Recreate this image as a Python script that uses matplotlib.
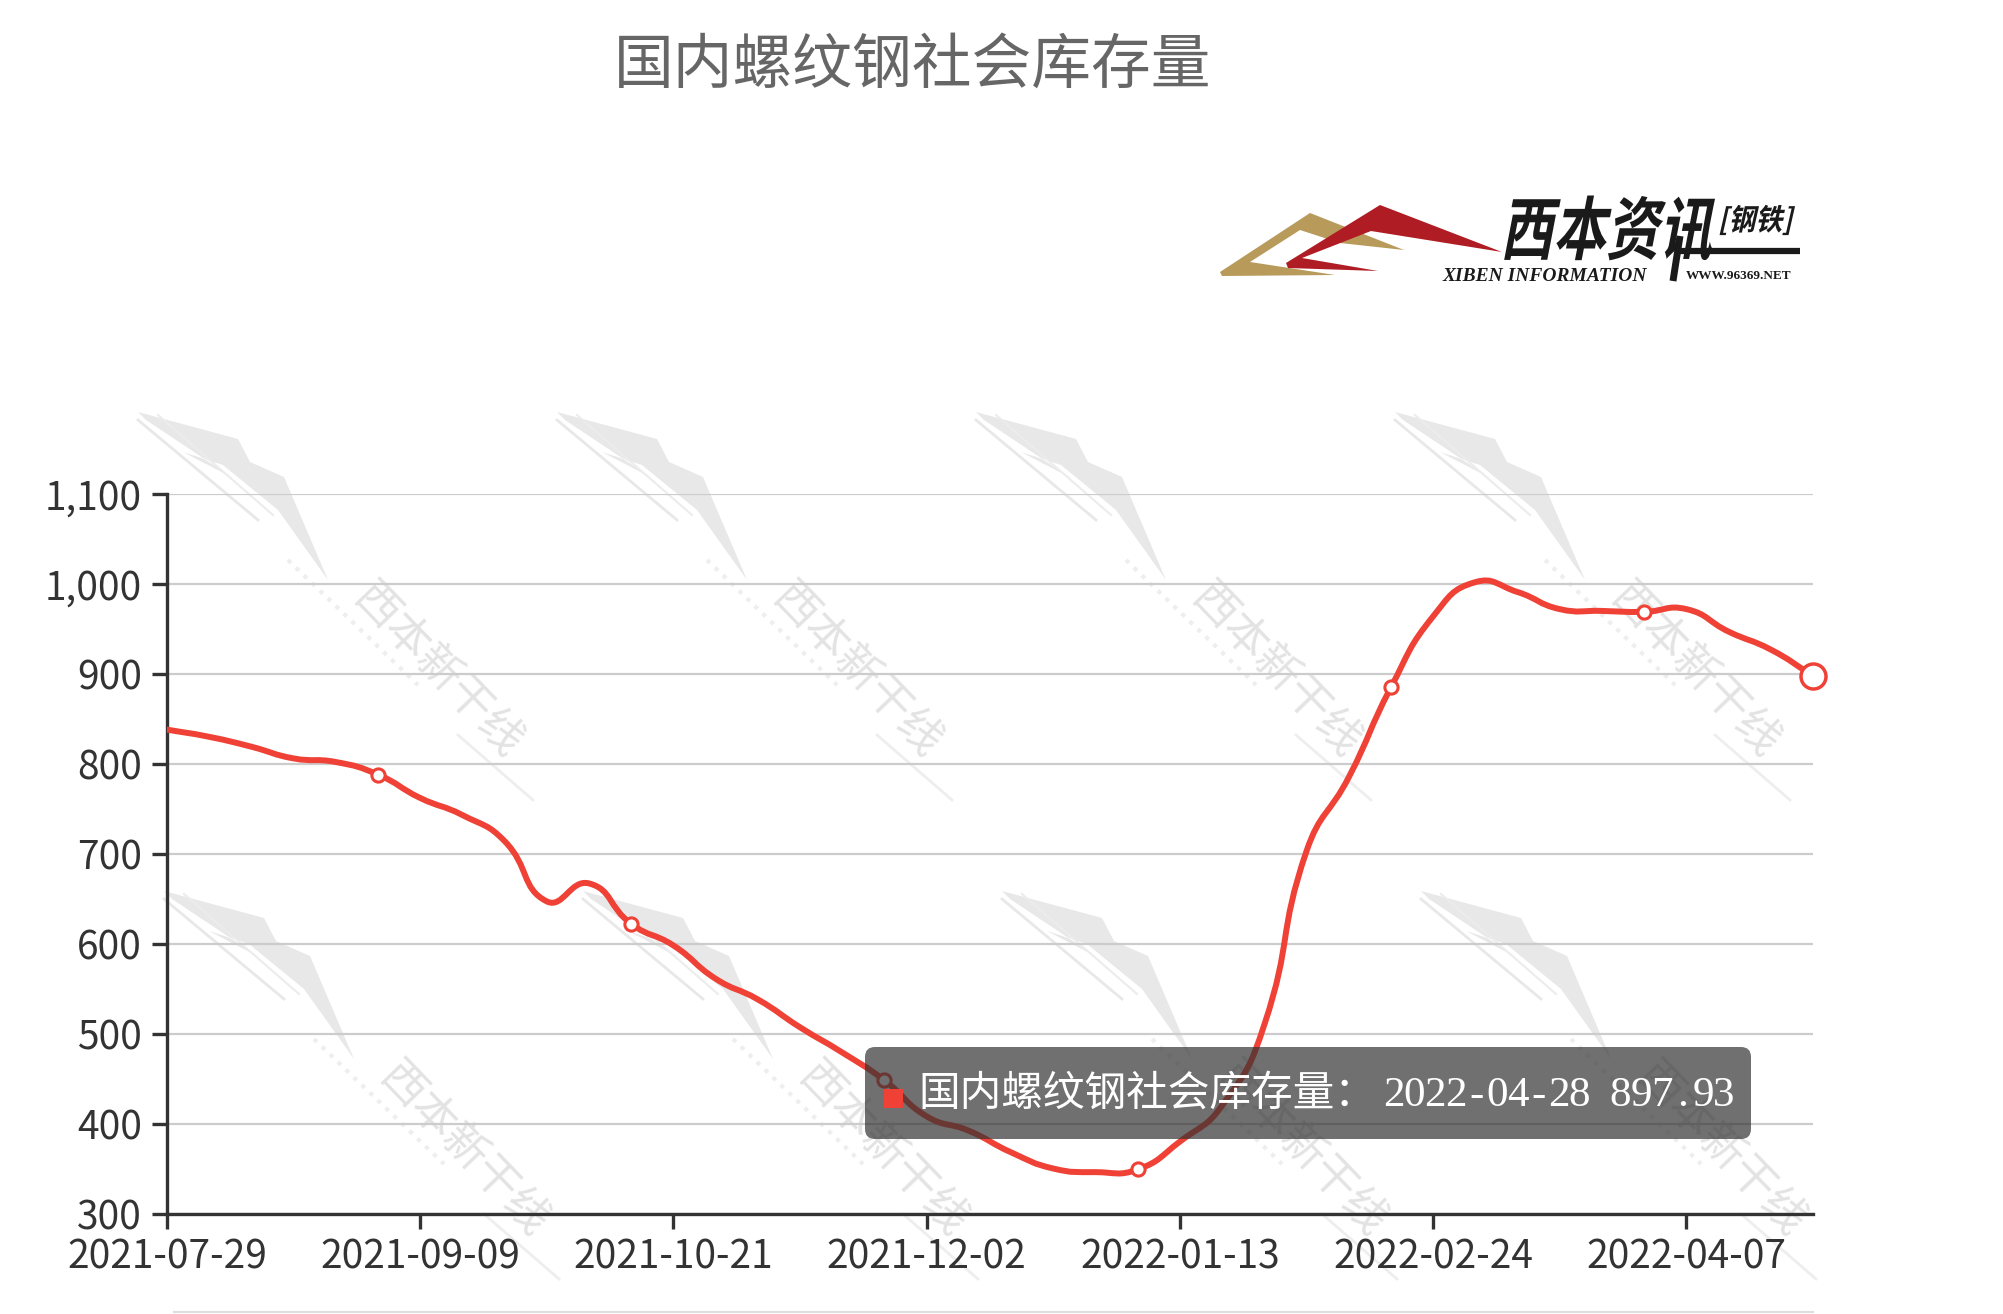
import matplotlib
matplotlib.use("Agg")
import matplotlib.pyplot as plt
import numpy as np
import pandas as pd
from matplotlib.path import Path
from matplotlib.patches import PathPatch, Polygon, FancyBboxPatch, Rectangle
from matplotlib.textpath import TextPath
from matplotlib.font_manager import FontProperties
from matplotlib.transforms import Affine2D
from matplotlib.ticker import FuncFormatter

plt.rcParams['font.family'] = ['Noto Sans CJK SC', 'DejaVu Sans']

# ---- data (weekly, 万吨) ----
title = '国内螺纹钢社会库存量'
dates = pd.date_range('2021-07-29', periods=40, freq='7D').strftime('%Y-%m-%d').tolist()
values = [838, 830, 819, 806, 802, 788, 762, 743, 714, 647,
          667, 622, 598, 561, 538, 507, 479, 448, 408, 392,
          368, 350, 346, 349, 380, 420, 510, 703, 785, 885,
          964, 1002, 991, 972, 970, 969, 972, 947, 927, 897.93]
yticks = [300, 400, 500, 600, 700, 800, 900, 1000, 1100]
tick_step = 6

RED = '#ef4136'
W, H = 2003, 1314

fig = plt.figure(figsize=(W / 100, H / 100), dpi=100)
fig.patch.set_facecolor('white')

# background layer in pixel coordinates (watermarks)
bg = fig.add_axes([0, 0, 1, 1], zorder=0)
bg.set_xlim(0, W)
bg.set_ylim(H, 0)
bg.axis('off')

def watermark(ax, cx, cy):
    pts = [(-300, -258), (-200, -231), (-188, -208), (-154, -193), (-110, -90),
           (-160, -160), (-215, -205), (-255, -218), (-205, -192), (-292, -250)]
    ax.add_patch(Polygon([(cx + a, cy + b) for a, b in pts], closed=True,
                         facecolor='#e8e8e8', edgecolor='none'))
    ax.plot([cx - 300, cx - 180], [cy - 250, cy - 150], color='#e8e8e8', lw=2)
    ax.plot([cx - 280, cx - 165], [cy - 255, cy - 155], color='#ececec', lw=1.5)
    ax.text(cx, cy, '西本新干线', rotation=-46, fontsize=32, color='#e3e3e3',
            ha='center', va='center', rotation_mode='anchor')
    ax.plot([cx - 150, cx - 20], [cy - 110, cy + 15], color='#eeeeee', lw=3, ls=':')
    ax.plot([cx + 20, cx + 95], [cy + 65, cy + 130], color='#eeeeee', lw=2)

for cx in [438, 857, 1276, 1695]:
    watermark(bg, cx, 670)
for cx in [464, 883, 1302, 1721]:
    watermark(bg, cx, 1149)

bg.plot([174, 1813], [1312, 1312], color='#dddddd', lw=1.5)

# main chart
left, right, top, bottom = 167, 1813, 494, 1213.5
ax = fig.add_axes([left / W, 1 - bottom / H, (right - left) / W, (bottom - top) / H], zorder=1)
ax.set_facecolor('none')
x = np.arange(len(values))
ax.set_xlim(0, len(values) - 1)
ax.set_ylim(300, 1100)

# smooth line (echarts-style bezier through the points)
disp = ax.transData.transform(np.column_stack([x, values]))
smooth = 0.5
verts = [disp[0]]
codes = [Path.MOVETO]
n = len(disp)
cps_out, cps_in = [], []
for i in range(n):
    p = disp[i]
    prev = disp[i - 1] if i > 0 else p
    nxt = disp[i + 1] if i < n - 1 else p
    v = (nxt - prev) * smooth
    d0 = np.linalg.norm(p - prev)
    d1 = np.linalg.norm(nxt - p)
    s = d0 + d1 if d0 + d1 > 0 else 1
    cps_in.append(p - v * d0 / s)
    cps_out.append(p + v * d1 / s)
for i in range(1, n):
    verts += [cps_out[i - 1], cps_in[i], disp[i]]
    codes += [Path.CURVE4] * 3
data_verts = ax.transData.inverted().transform(np.array(verts))
ax.add_patch(PathPatch(Path(data_verts, codes), facecolor='none', edgecolor=RED,
                       lw=4.3, zorder=3, capstyle='round', joinstyle='round'))

mk = x[5::tick_step]
ax.plot(mk, [values[i] for i in mk], 'o', mfc='white', mec=RED, ms=9.5, mew=2.2, zorder=4)
ax.plot(x[-1], values[-1], 'o', mfc='white', mec=RED, ms=18, mew=2.5, zorder=5, clip_on=False)

ax.set_yticks(yticks)
ax.yaxis.set_major_formatter(FuncFormatter(lambda v, p: f'{int(v):,}'))
ax.set_xticks(x[::tick_step])
ax.set_xticklabels([dates[i] for i in x[::tick_step]])
ax.grid(axis='y', color='#cccccc', lw=1.6)
ax.set_axisbelow(True)
for sp in ['top', 'right']:
    ax.spines[sp].set_visible(False)
for sp in ['left', 'bottom']:
    ax.spines[sp].set_color('#333333')
    ax.spines[sp].set_linewidth(2.4)
ax.tick_params(axis='both', colors='#333333', labelsize=28, width=2.4, length=11,
               direction='out')
ax.tick_params(axis='y', pad=7)
ax.tick_params(axis='x', pad=6)

# overlay layer (title, logo, tooltip)
ov = fig.add_axes([0, 0, 1, 1], zorder=2)
ov.set_xlim(0, W)
ov.set_ylim(H, 0)
ov.axis('off')

ov.text(913, 66, title, fontsize=43, color='#666666', ha='center', va='center')

# logo
ov.add_patch(Polygon([(1220, 272), (1310, 213), (1404, 250), (1340, 243), (1300, 230),
                      (1250, 262), (1335, 275), (1222, 276)], closed=True,
                     facecolor='#b89a5a', edgecolor='none'))
ov.add_patch(Polygon([(1286, 263), (1380, 205), (1502, 252), (1371, 231), (1302, 258),
                      (1378, 271), (1288, 268)], closed=True,
                     facecolor='#b01c24', edgecolor='none'))
fp = FontProperties(family='Noto Sans CJK SC', weight='heavy')
tp = TextPath((0, 0), '西本资讯', size=53, prop=fp)
tr = Affine2D().skew_deg(14, 0).scale(1.0, -1.3).translate(1500, 254)
ov.add_patch(PathPatch(tr.transform_path(tp), facecolor='#1a1a1a', edgecolor='none'))
tp2 = TextPath((0, 0), '[钢铁]', size=27, prop=fp)
tr2 = Affine2D().skew_deg(14, 0).scale(1.0, -1.1).translate(1718, 230)
ov.add_patch(PathPatch(tr2.transform_path(tp2), facecolor='#1a1a1a', edgecolor='none'))
ov.plot([1676, 1800], [251, 251], color='#1a1a1a', lw=4.5, solid_capstyle='butt')
ov.plot([1680, 1673], [236, 281], color='#1a1a1a', lw=5, solid_capstyle='butt')
ov.text(1443, 281, 'XIBEN INFORMATION', fontsize=14, family='Liberation Serif',
        weight='bold', style='italic', color='#1a1a1a', va='baseline')
ov.text(1686, 279, 'WWW.96369.NET', fontsize=9.5, family='Liberation Serif',
        weight='bold', color='#1a1a1a', va='baseline')

# tooltip
ov.add_patch(FancyBboxPatch((865, 1047), 886, 92, boxstyle='round,pad=0,rounding_size=10',
                            facecolor=(0.2, 0.2, 0.2, 0.7), edgecolor='none'))
ov.add_patch(Rectangle((884, 1089), 19, 19, facecolor=RED, edgecolor='none'))
ov.text(918, 1094, title + '：', fontsize=30, color='white', ha='left', va='center')
tip_val = f'{dates[-1]} {values[-1]:.2f}'
for i, ch in enumerate(tip_val):
    ov.text(1394 + i * 20.6, 1096, ch, fontsize=31, family='Liberation Serif',
            color='white', ha='center', va='center')

fig.savefig('out.png', dpi=100)
